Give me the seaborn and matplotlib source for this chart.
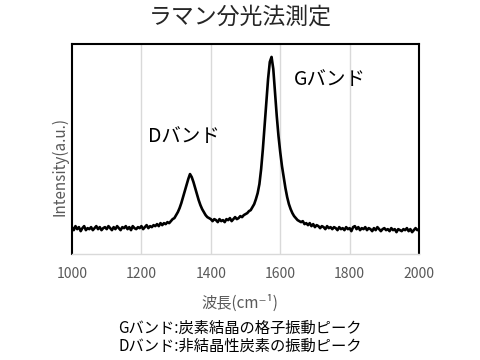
import numpy as np
import pandas as pd
import matplotlib.pyplot as plt
import seaborn as sns

# --- data (x step 5 cm-1) ---
wavenumber = list(range(1000, 2001, 5))
intensity = [
    27, 24, 28, 25, 27, 23, 26, 28, 24, 26,
    25, 27, 24, 26, 28, 25, 27, 24, 26, 27,
    25, 28, 26, 24, 27, 25, 28, 26, 24, 27,
    26, 28, 25, 27, 24, 28, 26, 25, 27, 26,
    28, 25, 27, 29, 26, 28, 27, 29, 28, 30,
    28, 31, 29, 31, 30, 32, 31, 33, 35, 36,
    39, 42, 46, 51, 57, 63, 69, 75, 80, 77,
    72, 66, 60, 54, 49, 45, 42, 39, 37, 36,
    35, 33, 35, 34, 32, 35, 33, 34, 32, 35,
    34, 36, 33, 35, 37, 35, 36, 38, 37, 39,
    40, 41, 43, 44, 47, 50, 55, 61, 70, 85,
    105, 128, 152, 175, 192, 197, 185, 162, 138, 118,
    102, 88, 77, 66, 57, 50, 45, 41, 38, 36,
    34, 33, 32, 33, 30, 31, 29, 31, 28, 30,
    27, 29, 28, 26, 28, 27, 25, 28, 26, 27,
    25, 27, 26, 24, 27, 25, 26, 24, 27, 25,
    26, 23, 27, 28, 25, 27, 24, 26, 25, 27,
    24, 26, 25, 23, 26, 24, 27, 25, 23, 25,
    26, 24, 25, 23, 26, 24, 25, 22, 25, 24,
    23, 25, 24, 26, 23, 25, 22, 24, 26, 24,
    25,
]
x_ticks = [1000, 1200, 1400, 1600, 1800, 2000]

df = pd.DataFrame({'wavenumber': wavenumber, 'intensity': intensity})

sns.set_theme(style='white')
plt.rcParams['font.family'] = ['Noto Sans CJK JP', 'DejaVu Sans']

fig = plt.figure(figsize=(4.8, 3.6), dpi=100)
ax = fig.add_axes([0.15, 0.294, 0.723, 0.584])

sns.lineplot(data=df, x='wavenumber', y='intensity', color='black', linewidth=1.9, ax=ax)

ax.set_xlim(1000, 2000)
ax.set_ylim(0, 210)
ax.set_xticks(x_ticks)
ax.set_xticklabels([str(t) for t in x_ticks], fontsize=10, color='#595959')
ax.tick_params(axis='x', length=0, pad=9)
ax.set_yticks([])
ax.set_xlabel('')
ax.set_ylabel('')
for t in x_ticks[1:-1]:
    ax.axvline(t, color='#d9d9d9', linewidth=1, zorder=0)

for side in ['left', 'top', 'right']:
    ax.spines[side].set_color('black')
    ax.spines[side].set_linewidth(1.5)
ax.spines['bottom'].set_color('#d9d9d9')
ax.spines['bottom'].set_linewidth(1)

# annotations
ax.text(1640, 197 - 23, 'Gバンド', fontsize=14, color='black', va='center', ha='left')
ax.text(1220, 254 - 136, 'Dバンド', fontsize=14, color='black', va='center', ha='left')

fig.text(0.5, 1 - 17 / 360, 'ラマン分光法測定', fontsize=16.5, ha='center', va='center', color='#262626')
fig.text(0.5, 1 - 303 / 360, '波長(cm⁻¹)', fontsize=11, ha='center', va='center', color='#595959')
fig.text(60 / 480, 1 - 166 / 360, 'Intensity(a.u.)', fontsize=11, rotation=90,
         ha='center', va='center', color='#595959')
fig.text(0.5, 1 - 328 / 360, 'Gバンド:炭素結晶の格子振動ピーク', fontsize=11, ha='center', va='center', color='black')
fig.text(0.5, 1 - 346 / 360, 'Dバンド:非結晶性炭素の振動ピーク', fontsize=11, ha='center', va='center', color='black')

fig.savefig('out.png', dpi=100)
